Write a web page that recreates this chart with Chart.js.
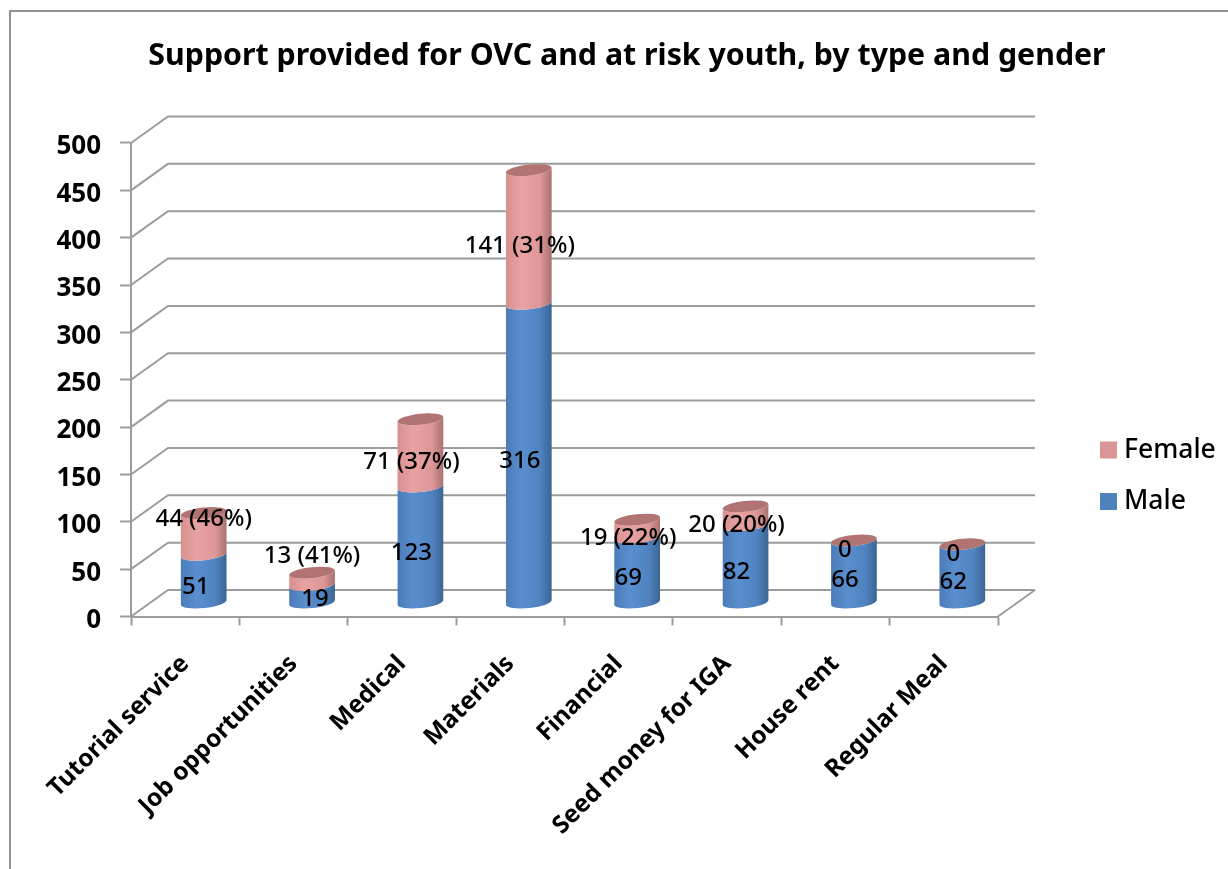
<!DOCTYPE html>
<html>
<head>
<meta charset="utf-8">
<title>Support provided for OVC and at risk youth</title>
<script src="https://cdn.jsdelivr.net/npm/chart.js@4"></script>
<style>
    html, body { margin: 0; padding: 0; background: #fff; overflow: hidden; }
    #frame { position: absolute; left: 9px; top: 10px; right: 0; bottom: 0; border-left: 2px solid #929292; border-top: 2px solid #929292; }
    #support-chart { position: absolute; left: 0; top: 0; }
</style>
</head>
<body>
<div id="frame"></div>
<canvas id="support-chart" width="1228" height="869"></canvas>
<script>
const categories = ['Tutorial service', 'Job opportunities', 'Medical', 'Materials', 'Financial', 'Seed money for IGA', 'House rent', 'Regular Meal'];
const maleValues = [51, 19, 123, 316, 69, 82, 66, 62];
const femaleValues = [44, 13, 71, 141, 19, 20, 0, 0];
const femaleShares = [46, 41, 37, 31, 22, 20, null, null];

// Some labels sit away from their bar so they stay readable
const femaleLabelNudgeX = [9, 9, 0, 0, 0, 0, 0, 0];
const femaleLabelNudgeY = [-24, -32, 0, 0, 0, 0, 0, 0];
const maleLabelNudgeX = [1, 12, 0, 0, 0, 0, 0, 0];
const maleLabelNudgeY = [0, -3, 0, 0, 0, 0, 0, 0];

const FONT = '"Noto Sans", sans-serif';
const GRID = '#9c9c9c';

// Depth of the fake 3D box and where the cylinders sit inside it
const DEPTH_X = 37;
const DEPTH_Y = 26.5;
const BAR_X = 18.5;
const BAR_Y = -13.5;
const CAP_RY = 5.5;
const CAP_TILT = -0.105;

const shades = {
    Male: { stops: ['#4a7cb8', '#5b8ecf', '#4f82bf', '#3b6592'], cap: '#4a7cb8' },
    Female: { stops: ['#d8908f', '#e9a2a2', '#dd9796', '#a87170'], cap: '#b27473' }
};

function drawBackWall(chart) {
    const { ctx, chartArea, scales } = chart;
    ctx.save();
    ctx.strokeStyle = GRID;
    ctx.lineWidth = 2;
    scales.y.ticks.forEach(function (tick) {
        const y = scales.y.getPixelForValue(tick.value);
        ctx.beginPath();
        ctx.moveTo(chartArea.left, y);
        ctx.lineTo(chartArea.left + DEPTH_X, y - DEPTH_Y);
        ctx.lineTo(chartArea.right + DEPTH_X, y - DEPTH_Y);
        ctx.stroke();
    });
    // Right edge of the floor
    ctx.beginPath();
    ctx.moveTo(chartArea.right, chartArea.bottom);
    ctx.lineTo(chartArea.right + DEPTH_X, chartArea.bottom - DEPTH_Y);
    ctx.stroke();
    ctx.restore();
}

function drawCylinders(chart, datasetIndex, withCap) {
    const { ctx } = chart;
    const meta = chart.getDatasetMeta(datasetIndex);
    const shade = shades[chart.data.datasets[datasetIndex].label];
    meta.data.forEach(function (bar) {
        const cx = bar.x + BAR_X;
        const rx = bar.width / 2;
        const top = bar.y + BAR_Y;
        const base = bar.base + BAR_Y;
        const grad = ctx.createLinearGradient(cx - rx, 0, cx + rx, 0);
        grad.addColorStop(0, shade.stops[0]);
        grad.addColorStop(0.35, shade.stops[1]);
        grad.addColorStop(0.75, shade.stops[2]);
        grad.addColorStop(1, shade.stops[3]);

        ctx.beginPath();
        ctx.ellipse(cx, base, rx, CAP_RY, CAP_TILT, 0, Math.PI);
        ctx.ellipse(cx, top, rx, CAP_RY, CAP_TILT, Math.PI, 0, true);
        ctx.closePath();
        ctx.fillStyle = grad;
        ctx.fill();

        if (withCap) {
            ctx.beginPath();
            ctx.ellipse(cx, top, rx, CAP_RY, CAP_TILT, 0, Math.PI * 2);
            ctx.fillStyle = shade.cap;
            ctx.fill();
        }
    });
}

function drawValueLabels(chart) {
    const { ctx } = chart;
    const male = chart.getDatasetMeta(0).data;
    const female = chart.getDatasetMeta(1).data;
    ctx.save();
    ctx.font = '500 24px ' + FONT;
    ctx.fillStyle = '#000';
    ctx.textAlign = 'center';
    ctx.textBaseline = 'middle';
    categories.forEach(function (name, i) {
        ctx.fillText(String(maleValues[i]),
            male[i].x + 9.5 + maleLabelNudgeX[i],
            (male[i].y + male[i].base) / 2 - 5 + maleLabelNudgeY[i]);
        const text = femaleShares[i] === null ? String(femaleValues[i]) : femaleValues[i] + ' (' + femaleShares[i] + '%)';
        ctx.fillText(text,
            female[i].x + 9.5 + femaleLabelNudgeX[i],
            (female[i].y + female[i].base) / 2 - 4 + femaleLabelNudgeY[i]);
    });
    ctx.restore();
}

// Legend column, Female on top like the stack order
function drawLegend(chart) {
    const { ctx } = chart;
    const items = chart.data.datasets.slice().reverse();
    ctx.save();
    ctx.font = '500 26.5px ' + FONT;
    ctx.textBaseline = 'middle';
    items.forEach(function (dataset, i) {
        const y = 450 + i * 51.5;
        ctx.fillStyle = dataset.backgroundColor;
        ctx.fillRect(1100, y - 8.5, 17, 17);
        ctx.fillStyle = '#000';
        ctx.fillText(dataset.label, 1124, y);
    });
    ctx.restore();
}

const box3d = {
    id: 'box3d',
    afterLayout(chart) {
        chart.titleBlock.left += 128;
        chart.titleBlock.right += 128;
    },
    beforeDatasetsDraw(chart) {
        drawBackWall(chart);
        drawCylinders(chart, 0, false);
        drawCylinders(chart, 1, true);
    },
    // The cylinders above replace the flat bars
    beforeDatasetDraw() {
        return false;
    },
    afterDatasetsDraw(chart) {
        drawValueLabels(chart);
        drawLegend(chart);
    }
};

let ctx = document.getElementById('support-chart').getContext('2d');
let chart = new Chart(ctx, {
    type: 'bar',
    data: {
        labels: categories,
        datasets: [
            { label: 'Male', data: maleValues, backgroundColor: '#4f81bd', barPercentage: 0.424, categoryPercentage: 1 },
            { label: 'Female', data: femaleValues, backgroundColor: '#d99694', barPercentage: 0.424, categoryPercentage: 1 }
        ]
    },
    plugins: [box3d],
    options: {
        responsive: false,
        animation: false,
        layout: { padding: { right: 230 }, autoPadding: false },
        plugins: {
            tooltip: { enabled: false },
            legend: { display: false },
            title: {
                display: true,
                text: 'Support provided for OVC and at risk youth, by type and gender',
                color: '#000',
                font: { family: FONT, size: 30.3, weight: 'bold', lineHeight: 1.2 },
                padding: { top: 38, bottom: 68.6 }
            }
        },
        scales: {
            x: {
                stacked: true,
                afterFit(scale) { scale.height = 252.5; },
                border: { color: GRID, width: 2 },
                grid: { drawOnChartArea: false, drawTicks: true, tickLength: 9, tickColor: GRID, tickWidth: 2 },
                ticks: {
                    color: '#000',
                    autoSkip: false,
                    minRotation: 45,
                    maxRotation: 45,
                    padding: 24,
                    font: { family: FONT, size: 24.5, weight: 'bold' }
                }
            },
            y: {
                stacked: true,
                min: 0,
                max: 500,
                afterFit(scale) { scale.width = 131; },
                border: { color: GRID, width: 2 },
                grid: { drawOnChartArea: false, drawTicks: true, tickLength: 11, tickColor: GRID, tickWidth: 2 },
                ticks: {
                    stepSize: 50,
                    color: '#000',
                    padding: 19,
                    labelOffset: 4,
                    font: { family: FONT, size: 26, weight: 'bold' }
                }
            }
        }
    }
});
</script>
</body>
</html>
